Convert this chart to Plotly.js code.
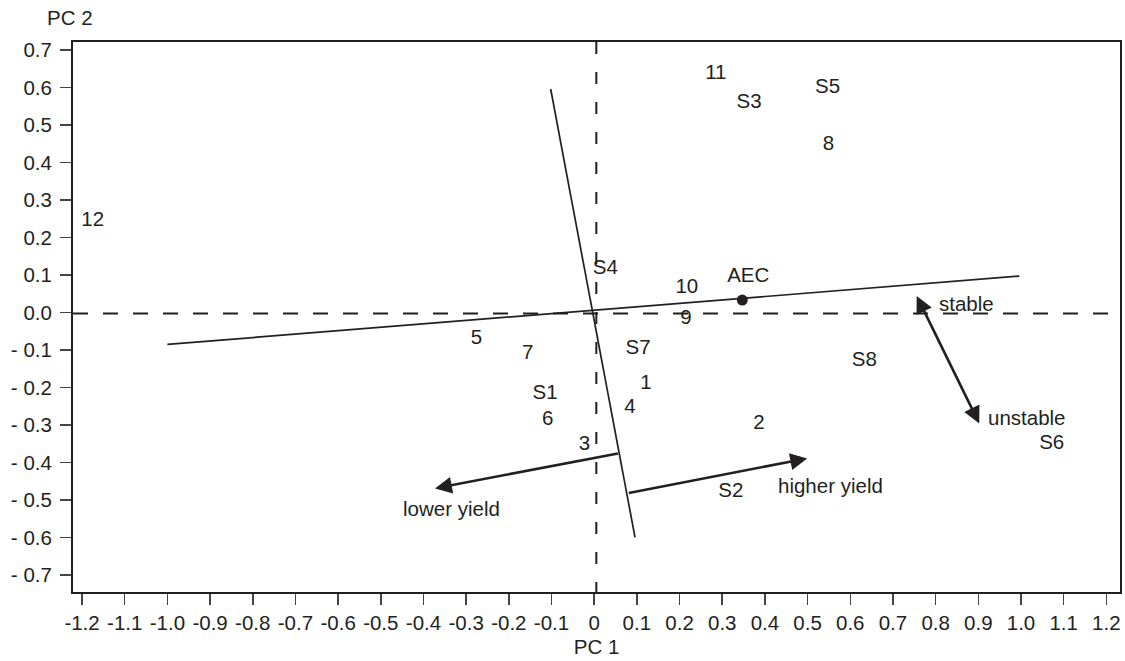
<!DOCTYPE html>
<html>
<head>
<meta charset="utf-8">
<script src="https://cdn.plot.ly/plotly-3.0.1.min.js"></script>
<style>html,body{margin:0;padding:0;background:#fff;}#chart{width:1125px;height:661px;}</style>
</head>
<body>
<div id="chart"></div>
<script>
// Genotype labels and scores
var genoLabels = ["1","2","3","4","5","6","7","8","9","10","11","12"];
var genoPC1 = [0.121, 0.386, -0.023, 0.084, -0.276, -0.109, -0.156, 0.549, 0.215, 0.217, 0.285, -1.175];
var genoPC2 = [-0.191, -0.297, -0.353, -0.255, -0.071, -0.287, -0.109, 0.447, -0.017, 0.066, 0.635, 0.244];

// Environment labels and scores
var envLabels = ["S1","S2","S3","S4","S5","S6","S7","S8"];
var envPC1 = [-0.115, 0.320, 0.363, 0.026, 0.547, 1.072, 0.103, 0.633];
var envPC2 = [-0.217, -0.478, 0.559, 0.116, 0.598, -0.349, -0.098, -0.129];

// Average environment coordinate
var aecPC1 = [0.347];
var aecPC2 = [0.033];
var aecLabel = ["AEC"];
var aecLabelPC1 = [0.361];
var aecLabelPC2 = [0.0955];

// AEC abscissa and ordinate lines
var abscissaPC1 = [-1.0, 0.996];
var abscissaPC2 = [-0.085, 0.097];
var ordinatePC1 = [-0.102, 0.0956];
var ordinatePC2 = [0.596, -0.5995];

// Arrows: [tailPC1, tailPC2, tipPC1, tipPC2]
var lowerYieldArrow = [0.059, -0.375, -0.373, -0.469];
var higherYieldArrow = [0.0776, -0.482, 0.499, -0.389];
var stabilityArrow = [0.904, -0.300, 0.7556, 0.044];

// Arrow captions
var captionTexts = ["lower yield", "higher yield", "stable", "unstable"];
var captionPC1 = [-0.334, 0.554, 0.873, 1.014];
var captionPC2 = [-0.522, -0.46, 0.0245, -0.279];

// Ticks
var xTickVals = [-1.2,-1.1,-1.0,-0.9,-0.8,-0.7,-0.6,-0.5,-0.4,-0.3,-0.2,-0.1,0,0.1,0.2,0.3,0.4,0.5,0.6,0.7,0.8,0.9,1.0,1.1,1.2];
var xTickText = ["-1.2","-1.1","-1.0","-0.9","-0.8","-0.7","-0.6","-0.5","-0.4","-0.3","-0.2","-0.1","0","0.1","0.2","0.3","0.4","0.5","0.6","0.7","0.8","0.9","1.0","1.1","1.2"];
var yTickVals = [-0.7,-0.6,-0.5,-0.4,-0.3,-0.2,-0.1,0,0.1,0.2,0.3,0.4,0.5,0.6,0.7];
var yTickText = ["- 0.7","- 0.6","- 0.5","- 0.4","- 0.3","- 0.2","- 0.1","0.0","0.1","0.2","0.3","0.4","0.5","0.6","0.7"];

var ink = "#231f20";
var fontFam = "Liberation Sans, Arial, Helvetica, sans-serif";
var fs = 20.5;

var traces = [
  {x: abscissaPC1, y: abscissaPC2, mode: "lines", line: {color: ink, width: 1.7}, hoverinfo: "skip"},
  {x: ordinatePC1, y: ordinatePC2, mode: "lines", line: {color: ink, width: 1.7}, hoverinfo: "skip"},
  {x: genoPC1, y: genoPC2, text: genoLabels, mode: "text", textposition: "middle center",
   textfont: {family: fontFam, size: fs, color: ink}},
  {x: envPC1, y: envPC2, text: envLabels, mode: "text", textposition: "middle center",
   textfont: {family: fontFam, size: fs, color: ink}},
  {x: aecPC1, y: aecPC2, mode: "markers", marker: {color: ink, size: 11}},
  {x: aecLabelPC1, y: aecLabelPC2, text: aecLabel, mode: "text", textposition: "middle center",
   textfont: {family: fontFam, size: fs, color: ink}}
];

function arrowAnn(a, both) {
  var ann = {
    x: a[2], y: a[3], ax: a[0], ay: a[1],
    xref: "x", yref: "y", axref: "x", ayref: "y",
    text: "", showarrow: true, arrowhead: 2, arrowsize: 1.3, arrowwidth: 2.6,
    arrowcolor: ink, standoff: 0, startstandoff: 0
  };
  if (both) {
    ann.arrowside = "end+start";
    ann.startarrowhead = 2;
    ann.startarrowsize = 1.3;
  }
  return ann;
}

var annotations = [
  arrowAnn(lowerYieldArrow, false),
  arrowAnn(higherYieldArrow, false),
  arrowAnn(stabilityArrow, true),
  {xref: "paper", yref: "paper", x: -0.003, y: 1.0, yshift: 25, xanchor: "center", yanchor: "middle",
   text: "PC 2", showarrow: false, font: {family: fontFam, size: fs, color: ink}}
];
for (var i = 0; i < captionTexts.length; i++) {
  annotations.push({x: captionPC1[i], y: captionPC2[i], xref: "x", yref: "y", text: captionTexts[i],
    showarrow: false, xanchor: "center", yanchor: "middle", font: {family: fontFam, size: fs, color: ink}});
}

var shapes = [
  {type: "line", xref: "paper", yref: "y", x0: 0, x1: 1, y0: -0.003, y1: -0.003,
   line: {color: ink, width: 2, dash: "15px,15px"}},
  {type: "line", xref: "x", yref: "paper", x0: 0.005, x1: 0.005, y0: 1, y1: 0,
   line: {color: ink, width: 2, dash: "12px,18px"}}
];

var layout = {
  width: 1125, height: 661,
  margin: {l: 73, r: 5, t: 42, b: 69},
  paper_bgcolor: "#fff", plot_bgcolor: "#fff",
  showlegend: false,
  font: {family: fontFam, size: fs, color: ink},
  xaxis: {
    range: [-1.2212, 1.2320], tickvals: xTickVals, ticktext: xTickText,
    showgrid: false, zeroline: false, showline: true, mirror: true, linecolor: ink, linewidth: 2,
    ticks: "outside", ticklen: 11, tickwidth: 1.5, tickcolor: "#444",
    tickfont: {family: fontFam, size: fs, color: ink},
    title: {text: "PC 1", font: {family: fontFam, size: fs, color: ink}, standoff: 7}
  },
  yaxis: {
    range: [-0.7453, 0.7213], tickvals: yTickVals, ticktext: yTickText,
    showgrid: false, zeroline: false, showline: true, mirror: true, linecolor: ink, linewidth: 2,
    ticks: "outside", ticklen: 11, tickwidth: 1.5, tickcolor: "#444", ticklabelstandoff: 4,
    tickfont: {family: fontFam, size: fs, color: ink}
  },
  shapes: shapes,
  annotations: annotations
};

Plotly.newPlot("chart", traces, layout, {displayModeBar: false, staticPlot: true});
</script>
</body>
</html>
